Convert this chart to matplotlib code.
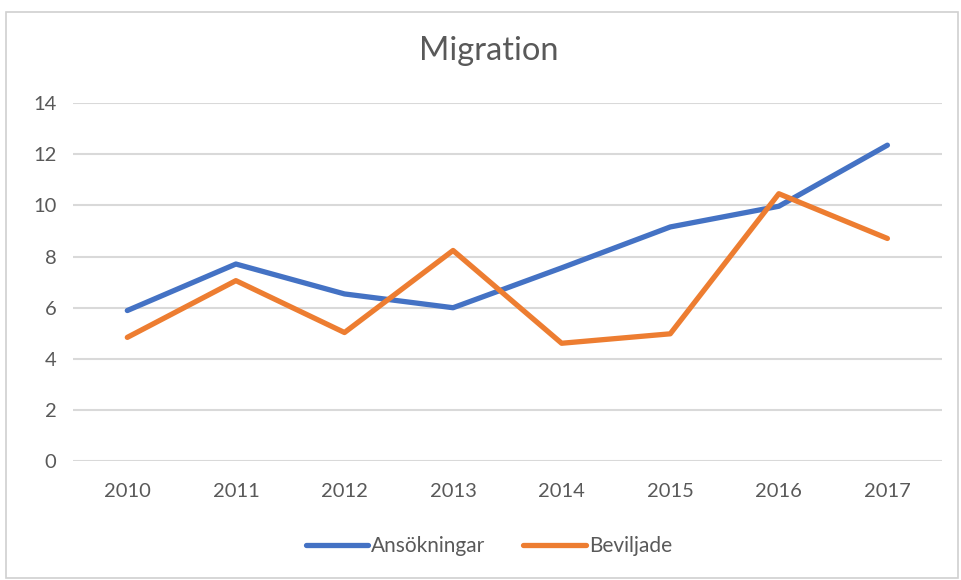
import matplotlib

matplotlib.use("Agg")

import matplotlib.pyplot as plt
from matplotlib.patches import Rectangle

years = ["2010", "2011", "2012", "2013", "2014", "2015", "2016", "2017"]
ansokningar = [5.89, 7.71, 6.54, 6.0, 7.56, 9.16, 9.97, 12.36]
beviljade = [4.84, 7.06, 5.03, 8.24, 4.61, 4.98, 10.46, 8.71]
y_ticks = [0, 2, 4, 6, 8, 10, 12, 14]

BLUE = "#4472C4"
ORANGE = "#ED7D31"
GRID = "#D9D9D9"
TEXT = "#595959"

plt.rcParams["font.family"] = ["Lato", "DejaVu Sans"]

fig = plt.figure(figsize=(9.62, 5.8), dpi=100, facecolor="white")
fig.patches.append(
    Rectangle((0.006, 0.004), 0.99, 0.975, transform=fig.transFigure,
              fill=False, ec="#D0D0D0", lw=1.2)
)

ax = fig.add_axes([0.0759, 0.205, 0.903, 0.617])
x = range(len(years))
ax.plot(x, ansokningar, color=BLUE, lw=3.8, solid_capstyle="round",
        solid_joinstyle="round", label="Ansökningar", zorder=3)
ax.plot(x, beviljade, color=ORANGE, lw=3.8, solid_capstyle="round",
        solid_joinstyle="round", label="Beviljade", zorder=3)

ax.set_xlim(-0.5, len(years) - 0.5)
ax.set_ylim(0, 14)
ax.set_xticks(list(x))
ax.set_xticklabels(years)
ax.set_yticks(y_ticks)
ax.grid(axis="y", color=GRID, lw=1.5)
ax.set_axisbelow(True)
for s in ax.spines.values():
    s.set_visible(False)
ax.tick_params(length=0, colors=TEXT, labelsize=14.5)
ax.tick_params(axis="x", pad=16)
ax.tick_params(axis="y", pad=12)

fig.text(0.508, 0.912, "Migration", ha="center", va="center",
         fontsize=23.5, color=TEXT)

fig.legend(loc="center", bbox_to_anchor=(0.508, 0.058), ncol=2,
           frameon=False, fontsize=15, labelcolor=TEXT,
           handlelength=3.0, handletextpad=0.15, columnspacing=1.8)

fig.savefig("out.png", dpi=100, facecolor="white")
